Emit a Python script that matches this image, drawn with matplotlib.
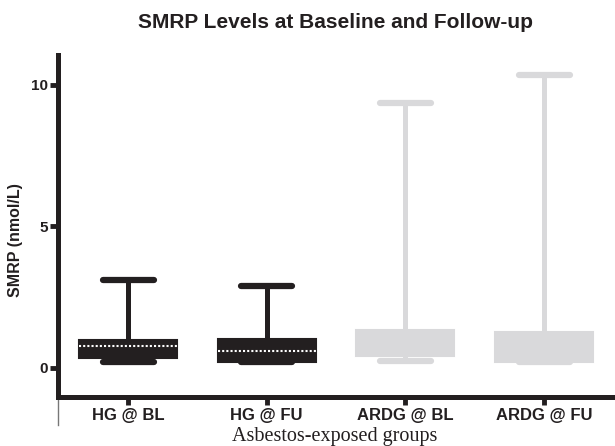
import matplotlib.pyplot as plt

groups = ['HG @ BL', 'HG @ FU', 'ARDG @ BL', 'ARDG @ FU']
whislo = [0.2, 0.22, 0.25, 0.2]
q1 = [0.35, 0.22, 0.43, 0.21]
med = [0.78, 0.6, 0.8, 0.7]
q3 = [1.0, 1.03, 1.35, 1.28]
whishi = [3.1, 2.9, 9.35, 10.35]

black = '#231f20'
grey = '#d9d9db'
colors = [black, black, grey, grey]

plt.rcParams['font.family'] = ['Liberation Sans', 'DejaVu Sans']

fig = plt.figure(figsize=(6.15, 4.46), dpi=100)
ax = fig.add_axes([58 / 615, (446 - 424.6) / 446, 1 - 58 / 615, (424.6 - 55) / 446])

# spine position first: moving it resets the tick labels
for s in ['top', 'right']:
    ax.spines[s].set_visible(False)
ax.spines['left'].set_linewidth(3.6)
ax.spines['left'].set_color(black)
ax.spines['left'].set_bounds(-1.02, 11.06)
ax.spines['bottom'].set_linewidth(3.6)
ax.spines['bottom'].set_color(black)
ax.spines['bottom'].set_position(('data', -1.02))

for i in range(len(groups)):
    stats = [dict(med=med[i], q1=q1[i], q3=q3[i], whislo=whislo[i], whishi=whishi[i])]
    c = colors[i]
    mcol = 'white' if c == black else grey
    ax.bxp(stats, positions=[i], widths=0.707, capwidths=0.368,
           showfliers=False, patch_artist=True,
           boxprops=dict(facecolor=c, edgecolor=c, linewidth=1.5),
           whiskerprops=dict(color=c, linewidth=3.6),
           capprops=dict(color=c, linewidth=4.5, solid_capstyle='round'),
           medianprops=dict(color=mcol, linewidth=1.5, linestyle=(0, (1, 1))))

ax.set_xlim(-0.505, 3.511)
ax.set_ylim(-2.0, 11.06)
ax.set_xticks(range(len(groups)))
ax.set_xticklabels(groups, fontweight='bold', fontsize=12)
ax.set_yticks([0, 5, 10])
ax.set_yticklabels(['0', '5', '10'], fontweight='bold', fontsize=11)

ax.tick_params(axis='both', width=3.5, length=6, color=black, labelcolor=black)
ax.tick_params(axis='x', pad=2)
ax.tick_params(axis='y', pad=1)
# thin stub of the y axis below the x axis, as in the original
ax.plot([-0.505, -0.505], [-2.0, -1.02], color='#777777', lw=1, clip_on=False)

ax.set_ylabel('SMRP (nmol/L)', fontweight='bold', fontsize=11.5, color=black, labelpad=6)
fig.text(335 / 615, 1 - 437 / 446, 'Asbestos-exposed groups', family='Liberation Serif',
         fontsize=14.5, ha='center', va='center', color=black)
fig.text(335 / 615, 1 - 22 / 446, 'SMRP Levels at Baseline and Follow-up', fontweight='bold',
         fontsize=15, ha='center', va='center', color=black)

fig.savefig('out.png', dpi=100)
